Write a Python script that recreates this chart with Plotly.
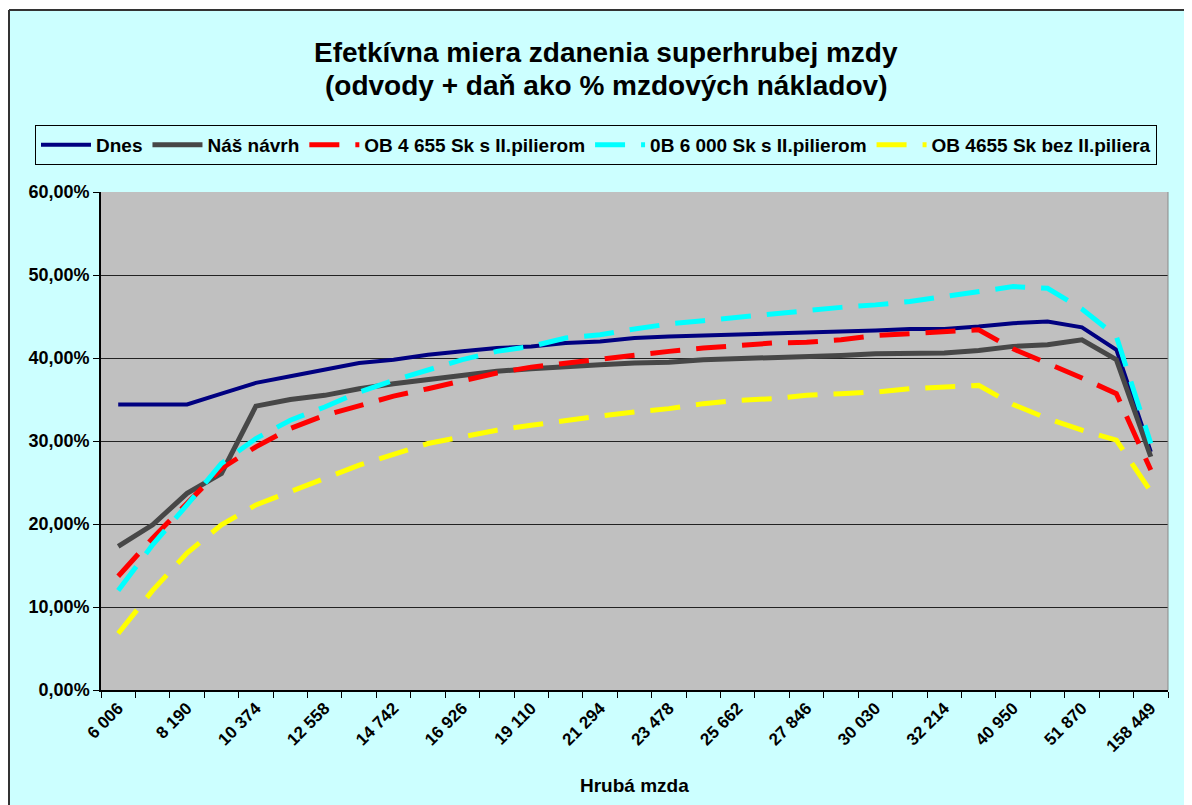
import plotly.graph_objects as go

# ---- data (values in %) ----
tick_labels = ["6 006", "8 190", "10 374", "12 558", "14 742", "16 926", "19 110", "21 294",
               "23 478", "25 662", "27 846", "30 030", "32 214", "40 950", "51 870", "158 449"]

dnes = [34.4, 34.4, 34.4, 35.7, 37.0, 37.8, 38.6, 39.4, 39.8, 40.4, 40.8, 41.2, 41.4, 41.8, 42.0, 42.4,
        42.6, 42.7, 42.9, 43.0, 43.1, 43.2, 43.3, 43.5, 43.5, 43.8, 44.2, 44.4, 43.7, 41.0, 28.7]
nas_navrh = [17.3, 19.9, 23.7, 26.1, 34.2, 35.0, 35.5, 36.3, 36.9, 37.4, 38.0, 38.4, 38.7, 39.0, 39.2, 39.4,
             39.5, 39.8, 39.9, 40.0, 40.2, 40.3, 40.5, 40.6, 40.6, 40.9, 41.4, 41.6, 42.2, 39.8, 28.1]
ob4655_s = [13.7, 18.3, 22.5, 26.7, 29.3, 31.5, 33.1, 34.3, 35.4, 36.3, 37.3, 38.2, 38.9, 39.4, 39.8, 40.3,
            40.8, 41.2, 41.5, 41.8, 41.9, 42.2, 42.7, 42.9, 43.2, 43.4, 41.1, 39.4, 37.6, 35.7, 26.5]
ob6000_s = [12.0, 17.5, 22.3, 27.3, 30.3, 32.5, 34.1, 35.9, 37.3, 38.6, 39.8, 40.8, 41.4, 42.4, 42.8, 43.5,
            44.1, 44.5, 44.9, 45.4, 45.8, 46.1, 46.4, 46.8, 47.4, 48.0, 48.6, 48.4, 45.9, 42.6, 29.7]
ob4655_bez = [6.8, 12.0, 16.5, 19.9, 22.3, 23.9, 25.5, 27.1, 28.4, 29.7, 30.5, 31.3, 31.9, 32.5, 33.0, 33.5,
              33.9, 34.5, 34.9, 35.1, 35.5, 35.7, 35.9, 36.3, 36.5, 36.7, 34.4, 32.7, 31.3, 30.1, 23.9]

series = [
    ("Dnes", dnes, "#000080", 4, "solid"),
    ("Náš návrh", nas_navrh, "#474747", 5, "solid"),
    ("OB 4 655 Sk s II.pilierom", ob4655_s, "#FF0000", 5, "30px,16px"),
    ("0B 6 000 Sk s II.pilierom", ob6000_s, "#00FFFF", 5, "30px,16px"),
    ("OB 4655 Sk bez II.piliera", ob4655_bez, "#FFFF00", 5, "30px,16px"),
]

n = len(dnes)
x_idx = list(range(n))

fig = go.Figure()
for name, vals, color, width, dash in series:
    fig.add_trace(go.Scatter(
        x=x_idx, y=[v / 100 for v in vals], name=name, mode="lines",
        line=dict(color=color, width=width, dash=dash),
    ))

FONT = "Arial, 'Liberation Sans', sans-serif"
OFF = 8  # page body margin
W, H = 1192, 805
# target plot area in window pixels: x 101..1168, y 192..690
L = 101 - OFF
T = 192 - OFF
R = OFF + W - 1168
B = OFF + H - 690
pw, ph = W - L - R, H - T - B


def px_x(px):
    return (px - OFF - L) / pw


def px_y(py):
    return (T + ph - (py - OFF)) / ph


fig.update_layout(
    width=W, height=H,
    margin=dict(l=L, r=R, t=T, b=B),
    paper_bgcolor="#CCFFFF",
    plot_bgcolor="#C0C0C0",
    separators=", ",
    font=dict(family=FONT, color="black", size=18),
    showlegend=True,
    legend=dict(
        orientation="h",
        x=px_x(35), xanchor="left",
        y=px_y(125), yanchor="top",
        bgcolor="#CCFFFF", bordercolor="black", borderwidth=1,
        font=dict(family=FONT, size=19, color="black", weight="bold"),
        itemwidth=50,
        traceorder="normal",
    ),
    xaxis=dict(
        range=[-0.5, n - 0.5],
        tickmode="array",
        tickvals=x_idx[::2],
        ticktext=tick_labels,
        tickangle=-45,
        ticks="",
        tickfont=dict(family=FONT, size=17, color="black", weight="bold"),
        showgrid=False, zeroline=False,
        showline=True, linecolor="black", linewidth=1.5,
        minor=dict(tickmode="array", tickvals=[i - 0.5 for i in range(n + 1)],
                   ticks="outside", ticklen=6, tickcolor="black", tickwidth=1, showgrid=False),
    ),
    yaxis=dict(
        range=[0, 0.6],
        tickmode="linear", tick0=0, dtick=0.1,
        tickformat=".2%",
        ticks="outside", ticklen=6, tickcolor="black",
        tickfont=dict(family=FONT, size=18, color="black", weight="bold"),
        showgrid=True, gridcolor="#222222", gridwidth=1,
        zeroline=False,
        showline=True, linecolor="black", linewidth=1.5,
    ),
    annotations=[
        dict(text="Efetkívna miera zdanenia superhrubej mzdy", x=px_x(606), xref="paper",
             y=px_y(52), yref="paper", yanchor="middle", xanchor="center", showarrow=False,
             font=dict(family=FONT, size=28, color="black", weight="bold")),
        dict(text="(odvody + daň ako % mzdových nákladov)", x=px_x(606), xref="paper",
             y=px_y(85), yref="paper", yanchor="middle", xanchor="center", showarrow=False,
             font=dict(family=FONT, size=28, color="black", weight="bold")),
        dict(text="Hrubá mzda", x=0.5, xref="paper", y=px_y(785), yref="paper",
             yanchor="middle", xanchor="center", showarrow=False,
             font=dict(family=FONT, size=19, color="black", weight="bold")),
    ],
    shapes=[
        # white strips outside the chart area frame
        dict(type="rect", xref="paper", yref="paper", x0=px_x(-5), x1=px_x(W + 20),
             y0=px_y(10), y1=px_y(-5), fillcolor="white", line=dict(width=0), layer="above"),
        dict(type="rect", xref="paper", yref="paper", x0=px_x(-5), x1=px_x(9),
             y0=px_y(H + 20), y1=px_y(-5), fillcolor="white", line=dict(width=0), layer="above"),
        # chart area frame lines (top and left)
        dict(type="line", xref="paper", yref="paper", x0=px_x(9), x1=px_x(W + 20),
             y0=px_y(10), y1=px_y(10), line=dict(color="#333333", width=2), layer="above"),
        dict(type="line", xref="paper", yref="paper", x0=px_x(9), x1=px_x(9),
             y0=px_y(10), y1=px_y(H + 20), line=dict(color="#333333", width=2), layer="above"),
        # plot area right edge
        dict(type="line", xref="paper", yref="paper", x0=1, x1=1, y0=0, y1=1,
             line=dict(color="#8a8a8a", width=1), layer="above"),
    ],
)

fig.write_html("out.html")
